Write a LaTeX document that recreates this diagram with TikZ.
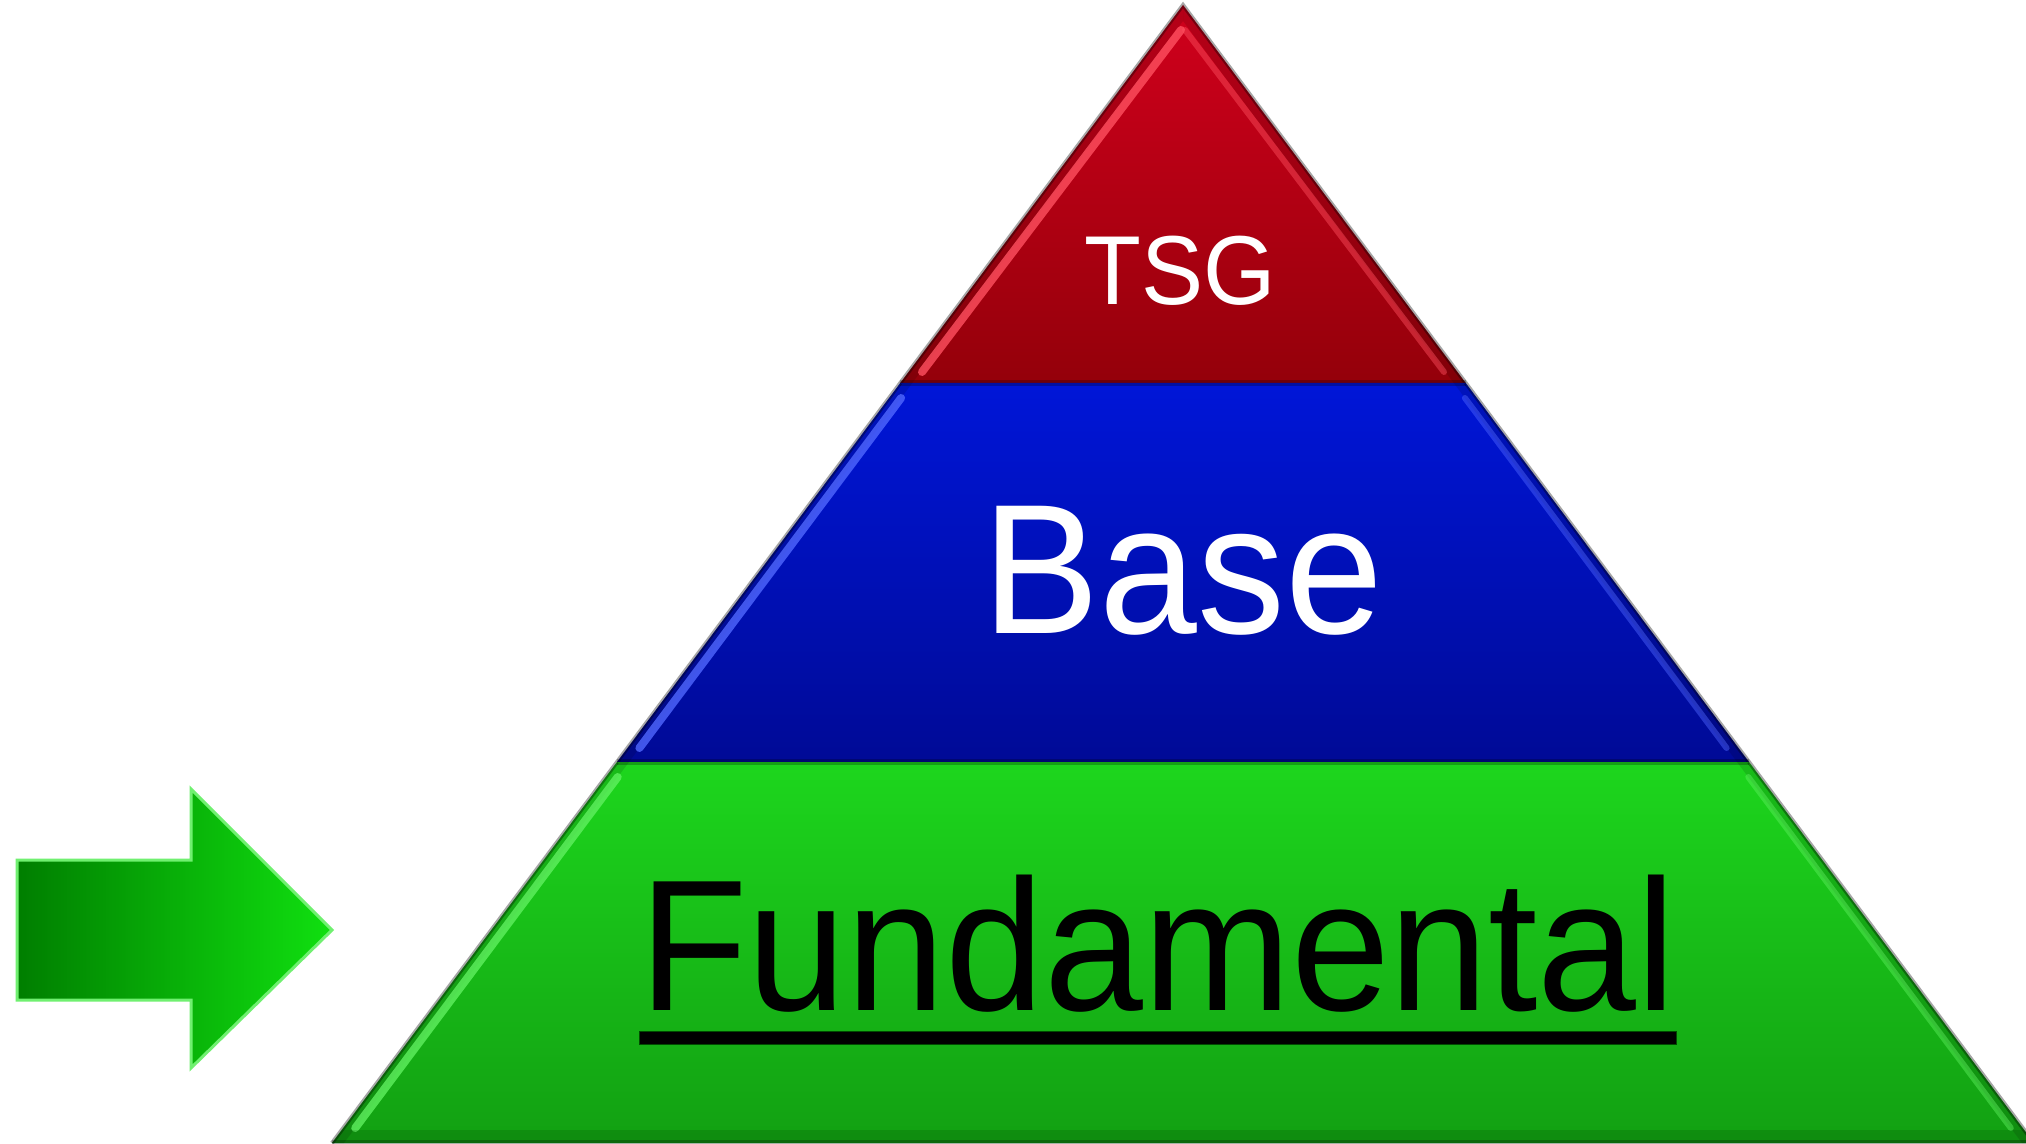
\documentclass[tikz,border=0pt]{standalone}
\usepackage{fontspec}
\setmainfont{Liberation Sans}
\usepackage{graphicx}
\definecolor{redT}{HTML}{D0001C}
\definecolor{redM}{HTML}{B00014}
\definecolor{redB}{HTML}{94000A}
\definecolor{redH}{HTML}{FF5060}
\definecolor{bluT}{HTML}{0016D8}
\definecolor{bluM}{HTML}{0010BC}
\definecolor{bluB}{HTML}{000A96}
\definecolor{bluH}{HTML}{5068FF}
\definecolor{grnT}{HTML}{1DD61D}
\definecolor{grnM}{HTML}{18BC18}
\definecolor{grnB}{HTML}{12A012}
\definecolor{grnH}{HTML}{60F060}
\definecolor{arrL}{HTML}{007E00}
\definecolor{arrR}{HTML}{10E010}
\definecolor{arrE}{HTML}{70F070}
\tikzset{
  bevelface/.style={fill=black, fill opacity=0.12},
  hiliteL/.style={line width=4, line cap=round, draw opacity=0.8},
  hiliteR/.style={line width=3, line cap=round, draw opacity=0.45},
  edgeline/.style={line width=2, draw=black, draw opacity=0.35, line join=miter},
  bandline/.style={line width=3, draw=black, draw opacity=0.25},
  lbl/.style={inner sep=0pt, anchor=base}
}
\begin{document}
\begin{tikzpicture}[x=0.5pt,y=-0.5pt]
\useasboundingbox (0,0) rectangle (2026,1144);
\clip (0,0) rectangle (2026,1144);
\fill[white] (0,0) rectangle (2026,1144);
% ---------- arrow
\shade[left color=arrL, right color=arrR, draw=arrE, line width=1.5]
  (17,860) -- (191,860) -- (191,789) -- (332,930) -- (191,1068) -- (191,1000) -- (17,1000) -- cycle;
% ---------- red band
\shade[top color=redT, middle color=redM, bottom color=redB]
  (1183,5) -- (1465.7,383) -- (900.3,383) -- cycle;
\fill[bevelface] (1183,5) -- (900.3,383) -- (912.3,383) -- (1183,21) -- cycle;
\fill[bevelface] (1183,5) -- (1465.7,383) -- (1453.7,383) -- (1183,21) -- cycle;
\draw[hiliteL, draw=redH] (1181,30) -- (922,372);
\draw[hiliteR, draw=redH] (1185,30) -- (1444,372);
\draw[edgeline] (900.3,383) -- (1183,5) -- (1465.7,383);
% ---------- blue band
\shade[top color=bluT, middle color=bluM, bottom color=bluB]
  (900.3,383) -- (1465.7,383) -- (1749,762) -- (617,762) -- cycle;
\fill[bevelface] (900.3,383) -- (617,762) -- (629,762) -- (912.3,383) -- cycle;
\fill[bevelface] (1465.7,383) -- (1749,762) -- (1737,762) -- (1453.7,383) -- cycle;
\draw[hiliteL, draw=bluH] (901.1,398) -- (639.4,748);
\draw[hiliteR, draw=bluH] (1464.9,398) -- (1726.6,748);
\draw[edgeline] (617,762) -- (900.3,383);
\draw[edgeline] (1465.7,383) -- (1749,762);
\draw[bandline] (900.3,383) -- (1465.7,383);
% ---------- green band
\shade[top color=grnT, middle color=grnM, bottom color=grnB]
  (617,762) -- (1749,762) -- (2034,1143) -- (332,1143) -- cycle;
\fill[bevelface] (617,762) -- (332,1143) -- (344,1143) -- (629,762) -- cycle;
\fill[bevelface] (1749,762) -- (2034,1143) -- (2022,1143) -- (1737,762) -- cycle;
\draw[hiliteL, draw=grnH] (617.7,777) -- (355.2,1128);
\draw[hiliteR, draw=grnH] (1748.3,777) -- (2010.8,1128);
\draw[edgeline] (332,1143) -- (617,762);
\draw[edgeline] (1749,762) -- (2034,1143);
\draw[bandline] (617,762) -- (1749,762);
\fill[black, opacity=0.12] (342,1130) -- (2024,1130) -- (2034,1143) -- (332,1143) -- cycle;
\draw[bandline] (332,1143) -- (2034,1143);
% ---------- labels
\node[lbl, text=white, font=\fontsize{49}{55}\selectfont] (tsg) at (1180,305) {\scalebox{0.95}[1]{TSG}};
\node[lbl, text=white, font=\fontsize{92.5}{100}\selectfont] (base) at (1183,634) {\scalebox{0.95}[1]{Base}};
\node[lbl, anchor=base west, text=black, font=\fontsize{93.5}{100}\selectfont] (fund) at (639,1010) {\scalebox{0.95}[1]{Fundamental}};
\fill[black, draw=black!70!green] (639,1031) rectangle (1676,1044);
\end{tikzpicture}
\end{document}
